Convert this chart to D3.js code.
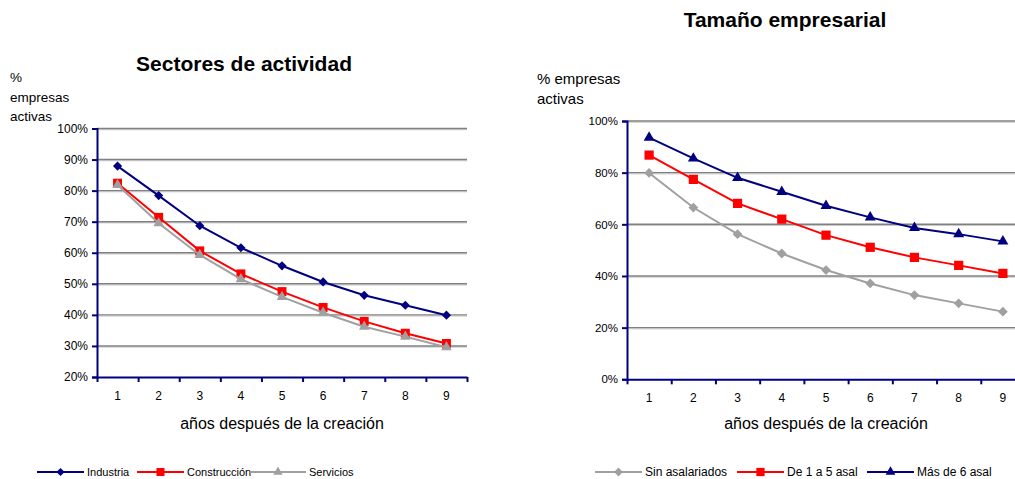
<!DOCTYPE html>
<html><head><meta charset="utf-8">
<script src="https://cdn.jsdelivr.net/npm/d3@7"></script>
<style>
html,body{margin:0;padding:0;background:#fff;}
svg{display:block;font-family:"Liberation Sans",Arial,sans-serif;}
</style></head>
<body>
<svg id="c" width="1015" height="479"></svg>
<script>
// ---- data ----
const years = [1,2,3,4,5,6,7,8,9];
const leftTicks = [0.2,0.3,0.4,0.5,0.6,0.7,0.8,0.9,1.0];
const rightTicks = [0,0.2,0.4,0.6,0.8,1.0];
const industria    = [0.879,0.784,0.687,0.616,0.558,0.506,0.463,0.431,0.399];
const construccion = [0.824,0.714,0.606,0.532,0.475,0.424,0.379,0.341,0.308];
const servicios    = [0.818,0.695,0.593,0.515,0.458,0.407,0.362,0.330,0.296];
const sinAsal   = [0.799,0.665,0.562,0.487,0.423,0.371,0.326,0.294,0.262];
const de1a5     = [0.868,0.774,0.681,0.620,0.558,0.511,0.472,0.441,0.410];
const mas6      = [0.936,0.855,0.780,0.726,0.672,0.627,0.586,0.562,0.534];
const xTitle = "años después de la creación";

const svg = d3.select("#c");
const NAVY="#000080", RED="#ff0000", GRAY="#a0a0a0";

const squareDiamond = {
  draw(ctx, size){
    const r = Math.sqrt(size/2);
    ctx.moveTo(0,-r); ctx.lineTo(r,0); ctx.lineTo(0,r); ctx.lineTo(-r,0); ctx.closePath();
  }
};
function markerPath(type, size){
  const sym = {diamond:squareDiamond, square:d3.symbolSquare, triangle:d3.symbolTriangle}[type];
  return d3.symbol().type(sym).size(size)();
}

function chart(cfg){
  const g = svg.append("g");
  const x = d3.scaleBand().domain(years).range([cfg.x0,cfg.x1]).paddingInner(0).paddingOuter(0);
  const xe = d3.scaleLinear().domain([0,years.length]).range([cfg.x0,cfg.x1]);
  const y = d3.scaleLinear().domain(cfg.yDomain).range([cfg.y1,cfg.y0]);
  // gridlines
  cfg.ticks.filter(t=>t>cfg.yDomain[0]).forEach(t=>{
    g.append("line").attr("x1",cfg.x0).attr("x2",cfg.x1).attr("y1",y(t)+1.2).attr("y2",y(t)+1.2)
      .attr("stroke","#c8c8c8").attr("stroke-width",1);
    g.append("line").attr("x1",cfg.x0).attr("x2",cfg.x1).attr("y1",y(t)).attr("y2",y(t))
      .attr("stroke","#808080").attr("stroke-width",1.4);
  });
  // y axis
  const ya = g.append("g").attr("transform",`translate(${cfg.x0},0)`)
    .call(d3.axisLeft(y).tickValues(cfg.ticks).tickFormat(d3.format(".0%")).tickSize(5).tickPadding(4));
  ya.select(".domain").attr("stroke",NAVY).attr("stroke-width",2);
  ya.selectAll(".tick line").attr("stroke",NAVY).attr("stroke-width",2);
  ya.selectAll(".tick text").attr("font-size",cfg.tickFont).attr("fill","#000").attr("font-family","Liberation Sans, Arial");
  // x axis edge ticks
  const xa = g.append("g").attr("transform",`translate(0,${cfg.y1})`)
    .call(d3.axisBottom(xe).tickValues(d3.range(0,years.length+1)).tickFormat("").tickSize(5).tickSizeOuter(0));
  xa.select(".domain").attr("stroke",NAVY).attr("stroke-width",2);
  xa.selectAll(".tick line").attr("stroke",NAVY).attr("stroke-width",2);
  // x labels
  const xl = g.append("g").attr("transform",`translate(0,${cfg.y1})`)
    .call(d3.axisBottom(x).tickSize(0).tickPadding(cfg.xPad));
  xl.select(".domain").remove();
  xl.selectAll(".tick text").attr("font-size",12).attr("fill","#000").attr("font-family","Liberation Sans, Arial");
  // titles
  g.append("text").attr("x",cfg.titleX).attr("y",cfg.titleY).attr("text-anchor","middle")
    .attr("font-size",21).attr("font-weight","bold").text(cfg.title);
  g.append("text").attr("x",(cfg.x0+cfg.xTitleRight)/2).attr("y",cfg.xTitleY).attr("text-anchor","middle")
    .attr("font-size",16).text(xTitle);
  cfg.yLabel.forEach((l,i)=>{
    g.append("text").attr("x",cfg.yLabelX).attr("y",cfg.yLabelY+i*cfg.yLabelStep).attr("font-size",cfg.yLabelFont).text(l);
  });
  // series
  const line = d3.line().x((d,i)=>x(years[i])+x.bandwidth()/2).y(d=>y(d));
  cfg.series.forEach(s=>{
    g.append("path").datum(s.values).attr("d",line).attr("fill","none").attr("stroke",s.color).attr("stroke-width",2);
    g.selectAll(null).data(s.values).join("path")
      .attr("d",markerPath(s.marker,s.size))
      .attr("transform",(d,i)=>`translate(${x(years[i])+x.bandwidth()/2},${y(d)})`)
      .attr("fill",s.color);
  });
  // legend
  cfg.series.forEach((s,i)=>{
    const L = cfg.legend[i];
    g.append("line").attr("x1",L.x1).attr("x2",L.x2).attr("y1",cfg.legendY).attr("y2",cfg.legendY)
      .attr("stroke",s.color).attr("stroke-width",2);
    g.append("path").attr("d",markerPath(s.marker,s.size*0.8))
      .attr("transform",`translate(${(L.x1+L.x2)/2},${cfg.legendY})`).attr("fill",s.color);
    g.append("text").attr("x",L.x2+3).attr("y",cfg.legendY+4).attr("font-size",cfg.legendFont).text(s.name);
  });
}

chart({
  x0:97, x1:467, y0:128.5, y1:377, yDomain:[0.2,1.0], ticks:leftTicks, xPad:14, tickFont:12,
  title:"Sectores de actividad", titleX:244, titleY:71,
  xTitleRight:467, xTitleY:429,
  yLabel:["%","empresas","activas"], yLabelX:10, yLabelY:82, yLabelStep:19.5, yLabelFont:13.5,
  legendY:472, legendFont:11,
  series:[
    {name:"Industria", values:industria, color:NAVY, marker:"diamond", size:42},
    {name:"Construcción", values:construccion, color:RED, marker:"square", size:80},
    {name:"Servicios", values:servicios, color:GRAY, marker:"triangle", size:48}
  ],
  legend:[{x1:37,x2:84},{x1:137,x2:184},{x1:250,x2:306}]
});

chart({
  x0:627, x1:1025, y0:121, y1:379.3, yDomain:[0,1.0], ticks:rightTicks, xPad:14, tickFont:11.5,
  title:"Tamaño empresarial", titleX:785, titleY:27,
  xTitleRight:1025, xTitleY:429,
  yLabel:["% empresas","activas"], yLabelX:537, yLabelY:84, yLabelStep:20, yLabelFont:15,
  legendY:472, legendFont:12,
  series:[
    {name:"Sin asalariados", values:sinAsal, color:GRAY, marker:"diamond", size:48},
    {name:"De 1 a 5 asal", values:de1a5, color:RED, marker:"square", size:85},
    {name:"Más de 6 asal", values:mas6, color:NAVY, marker:"triangle", size:52}
  ],
  legend:[{x1:595,x2:642},{x1:737,x2:784},{x1:867,x2:914}]
});
</script>
</body></html>
